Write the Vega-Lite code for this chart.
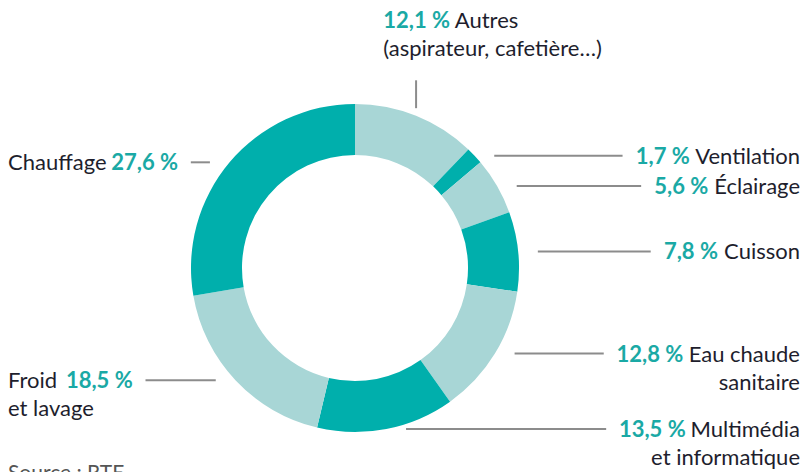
{
  "$schema": "https://vega.github.io/schema/vega-lite/v6.json",
  "width": 808,
  "height": 472,
  "padding": 0,
  "autosize": {"type": "none"},
  "background": "white",
  "config": {"view": {"stroke": null}, "font": "Lato", "text": {"font": "Lato"}},
  "data": {
    "values": [
      {"categorie": "Autres", "suite": "(aspirateur, cafetière…)", "part": 12.1},
      {"categorie": "Ventilation", "suite": "", "part": 1.7},
      {"categorie": "Éclairage", "suite": "", "part": 5.6},
      {"categorie": "Cuisson", "suite": "", "part": 7.8},
      {"categorie": "Eau chaude", "suite": "sanitaire", "part": 12.8},
      {"categorie": "Multimédia", "suite": "et informatique", "part": 13.5},
      {"categorie": "Froid", "suite": "et lavage", "part": 18.5},
      {"categorie": "Chauffage", "suite": "", "part": 27.6}
    ]
  },
  "transform": [
    {"window": [{"op": "row_number", "as": "rang"}]},
    {"joinaggregate": [{"op": "sum", "field": "part", "as": "total"}]},
    {"window": [{"op": "sum", "field": "part", "as": "cumul"}], "sort": [{"field": "rang"}], "frame": [null, 0]},
    {"calculate": "2*PI*(datum.cumul - datum.part/2)/datum.total", "as": "ang"},
    {"calculate": "sin(datum.ang)", "as": "sx"},
    {"calculate": "cos(datum.ang)", "as": "cy"},
    {"calculate": "abs(datum.sx) < 0.45 && datum.cy > 0 ? 'haut' : (datum.sx >= 0 ? 'droite' : 'gauche')", "as": "pos"},
    {"calculate": "replace(format(datum.part, '.1f'), '.', ',') + ' %'", "as": "pct"},
    {"calculate": "length(replace(datum.categorie, regexp('[^ijl]', 'g'), ''))", "as": "nI"},
    {"calculate": "length(replace(datum.categorie, regexp('[^tfr]', 'g'), ''))", "as": "nT"},
    {"calculate": "length(replace(datum.categorie, regexp('[^ ]', 'g'), ''))", "as": "nS"},
    {"calculate": "length(replace(datum.categorie, regexp('[^mw]', 'g'), ''))", "as": "nM"},
    {"calculate": "length(replace(datum.categorie, regexp('[^MW]', 'g'), ''))", "as": "nMM"},
    {"calculate": "length(replace(datum.categorie, regexp('[^VCOQG]', 'g'), ''))", "as": "nUV"},
    {"calculate": "length(replace(datum.categorie, regexp('[^ABDEFHIJKLNPRSTUXYZÉ]', 'g'), ''))", "as": "nU"},
    {"calculate": "length(replace(datum.categorie, regexp('[^s]', 'g'), ''))", "as": "nSs"},
    {"calculate": "length(replace(datum.categorie, regexp('[^aceéègz]', 'g'), ''))", "as": "nA"},
    {"calculate": "22*(0.24*datum.nI + 0.34*datum.nT + 0.22*datum.nS + 0.84*datum.nM + 0.86*datum.nMM + 0.62*datum.nUV + 0.58*datum.nU + 0.42*datum.nSs + 0.48*datum.nA + 0.555*(length(datum.categorie) - datum.nI - datum.nT - datum.nS - datum.nM - datum.nMM - datum.nUV - datum.nU - datum.nSs - datum.nA))/164", "as": "wn"},
    {"calculate": "22*(0.56*(length(datum.pct) - 3) + 1.3)/164", "as": "wp"},
    {"calculate": "datum.pos == 'haut' ? datum.cy*1.05 + 0.536 : datum.cy", "as": "ty"},
    {"calculate": "datum.ty - 0.1707", "as": "ty2"},
    {"calculate": "datum.pos == 'droite' ? 2.7134 : (datum.pos == 'gauche' ? -2.1159 : datum.sx - 0.2 + datum.wp + 0.0366)", "as": "txNom"},
    {"calculate": "datum.pos == 'droite' ? 2.7134 - datum.wn - 0.0488 : (datum.pos == 'gauche' ? -2.1159 + datum.wn + 0.0488 : datum.sx - 0.2)", "as": "txPct"},
    {"calculate": "datum.pos == 'droite' ? 2.7134 : (datum.pos == 'gauche' ? -2.1159 : datum.sx - 0.2)", "as": "txSuite"},
    {"calculate": "datum.pos == 'droite' ? datum.sx + 0.12 : (datum.pos == 'gauche' ? datum.sx - 0.12 : datum.sx)", "as": "lx1"},
    {"calculate": "datum.pos == 'droite' ? 2.7134 - datum.wn - 0.0488 - datum.wp - 0.0854 : (datum.pos == 'gauche' ? -2.1159 + datum.wn + 0.0488 + datum.wp + 0.0854 : datum.sx)", "as": "lx2"},
    {"calculate": "datum.pos == 'haut' ? datum.cy*1.05 : datum.cy", "as": "ly1"},
    {"calculate": "datum.pos == 'haut' ? datum.cy*1.05 + 0.17 : datum.cy", "as": "ly2"},
    {"calculate": "datum.pos == 'droite' ? 'R' : 'L'", "as": "al"}
  ],
  "layer": [
    {
      "mark": {"type": "arc", "outerRadius": 164, "innerRadius": 113, "stroke": null},
      "encoding": {
        "theta": {"field": "part", "type": "quantitative", "stack": true},
        "order": {"field": "rang", "type": "quantitative"},
        "color": {
          "field": "categorie",
          "type": "nominal",
          "legend": null,
          "scale": {
            "domain": ["Autres", "Ventilation", "Éclairage", "Cuisson", "Eau chaude", "Multimédia", "Froid", "Chauffage"],
            "range": ["#a8d6d6", "#00afac", "#a8d6d6", "#00afac", "#a8d6d6", "#00afac", "#a8d6d6", "#00afac"]
          }
        },
        "x": {"datum": 0, "type": "quantitative", "axis": null, "scale": {"domain": [-2.1646, 2.7622], "nice": false, "zero": false}},
        "y": {"datum": 0, "type": "quantitative", "axis": null, "scale": {"domain": [-1.2439, 1.6341], "nice": false, "zero": false}}
      }
    },
    {
      "mark": {"type": "rule", "color": "#8c8c8c", "strokeWidth": 2},
      "encoding": {
        "x": {"field": "lx1", "type": "quantitative", "axis": null, "scale": {"domain": [-2.1646, 2.7622], "nice": false, "zero": false}},
        "x2": {"field": "lx2"},
        "y": {"field": "ly1", "type": "quantitative", "axis": null, "scale": {"domain": [-1.2439, 1.6341], "nice": false, "zero": false}},
        "y2": {"field": "ly2"}
      }
    },
    {
      "transform": [{"filter": "datum.al == 'R'"}],
      "mark": {"type": "text", "align": "right", "baseline": "alphabetic", "dy": 8, "fontSize": 22, "color": "#1e1e2d"},
      "encoding": {
        "x": {"field": "txNom", "type": "quantitative", "axis": null, "scale": {"domain": [-2.1646, 2.7622], "nice": false, "zero": false}},
        "y": {"field": "ty", "type": "quantitative", "axis": null, "scale": {"domain": [-1.2439, 1.6341], "nice": false, "zero": false}},
        "text": {"field": "categorie"}
      }
    },
    {
      "transform": [{"filter": "datum.al == 'L'"}],
      "mark": {"type": "text", "align": "left", "baseline": "alphabetic", "dy": 8, "fontSize": 22, "color": "#1e1e2d"},
      "encoding": {
        "x": {"field": "txNom", "type": "quantitative", "axis": null, "scale": {"domain": [-2.1646, 2.7622], "nice": false, "zero": false}},
        "y": {"field": "ty", "type": "quantitative", "axis": null, "scale": {"domain": [-1.2439, 1.6341], "nice": false, "zero": false}},
        "text": {"field": "categorie"}
      }
    },
    {
      "transform": [{"filter": "datum.al == 'R'"}],
      "mark": {"type": "text", "align": "right", "baseline": "alphabetic", "dy": 8, "fontSize": 22, "fontWeight": "bold", "color": "#1aa9a5"},
      "encoding": {
        "x": {"field": "txPct", "type": "quantitative", "axis": null, "scale": {"domain": [-2.1646, 2.7622], "nice": false, "zero": false}},
        "y": {"field": "ty", "type": "quantitative", "axis": null, "scale": {"domain": [-1.2439, 1.6341], "nice": false, "zero": false}},
        "text": {"field": "pct"}
      }
    },
    {
      "transform": [{"filter": "datum.al == 'L'"}],
      "mark": {"type": "text", "align": "left", "baseline": "alphabetic", "dy": 8, "fontSize": 22, "fontWeight": "bold", "color": "#1aa9a5"},
      "encoding": {
        "x": {"field": "txPct", "type": "quantitative", "axis": null, "scale": {"domain": [-2.1646, 2.7622], "nice": false, "zero": false}},
        "y": {"field": "ty", "type": "quantitative", "axis": null, "scale": {"domain": [-1.2439, 1.6341], "nice": false, "zero": false}},
        "text": {"field": "pct"}
      }
    },
    {
      "transform": [{"filter": "datum.al == 'R' && datum.suite != ''"}],
      "mark": {"type": "text", "align": "right", "baseline": "alphabetic", "dy": 8, "fontSize": 22, "color": "#1e1e2d"},
      "encoding": {
        "x": {"field": "txSuite", "type": "quantitative", "axis": null, "scale": {"domain": [-2.1646, 2.7622], "nice": false, "zero": false}},
        "y": {"field": "ty2", "type": "quantitative", "axis": null, "scale": {"domain": [-1.2439, 1.6341], "nice": false, "zero": false}},
        "text": {"field": "suite"}
      }
    },
    {
      "transform": [{"filter": "datum.al == 'L' && datum.suite != ''"}],
      "mark": {"type": "text", "align": "left", "baseline": "alphabetic", "dy": 8, "fontSize": 22, "color": "#1e1e2d"},
      "encoding": {
        "x": {"field": "txSuite", "type": "quantitative", "axis": null, "scale": {"domain": [-2.1646, 2.7622], "nice": false, "zero": false}},
        "y": {"field": "ty2", "type": "quantitative", "axis": null, "scale": {"domain": [-1.2439, 1.6341], "nice": false, "zero": false}},
        "text": {"field": "suite"}
      }
    },
    {
      "data": {"values": [{"source": "Source : RTE"}]},
      "mark": {"type": "text", "align": "left", "baseline": "alphabetic", "fontSize": 21, "color": "#555555"},
      "encoding": {
        "x": {"datum": -2.1159, "type": "quantitative", "axis": null, "scale": {"domain": [-2.1646, 2.7622], "nice": false, "zero": false}},
        "y": {"datum": -1.2927, "type": "quantitative", "axis": null, "scale": {"domain": [-1.2439, 1.6341], "nice": false, "zero": false}},
        "text": {"field": "source"}
      }
    }
  ]
}
